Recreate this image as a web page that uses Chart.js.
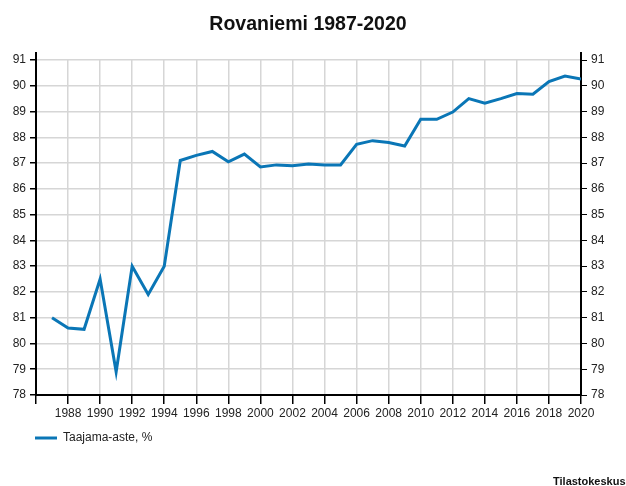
<!DOCTYPE html>
<html>
<head>
<meta charset="utf-8">
<script src="https://cdn.jsdelivr.net/npm/chart.js@4/dist/chart.umd.min.js"></script>
<style>
  html, body { margin: 0; padding: 0; background: #fff; }
  #wrap { width: 626px; height: 486px; }
</style>
</head>
<body>
<div id="wrap"><canvas id="kuvaaja" width="626" height="486"></canvas></div>
<script>
// Taajama-aste, Rovaniemi
const vuodet = [1987, 1988, 1989, 1990, 1991, 1992, 1993, 1994, 1995, 1996, 1997,
    1998, 1999, 2000, 2001, 2002, 2003, 2004, 2005, 2006, 2007, 2008, 2009, 2010,
    2011, 2012, 2013, 2014, 2015, 2016, 2017, 2018, 2019, 2020];
const taajamaAste = [81.0, 80.6, 80.55, 82.5, 78.9, 83.0, 81.9, 83.0, 87.1, 87.3, 87.45,
    87.05, 87.35, 86.85, 86.93, 86.9, 86.96, 86.93, 86.93, 87.73, 87.87, 87.8, 87.66, 88.7,
    88.7, 88.98, 89.5, 89.32, 89.5, 89.7, 89.67, 90.16, 90.38, 90.26];
const otsikko = 'Rovaniemi 1987-2020';
const sarjanNimi = 'Taajama-aste, %';
const lahde = 'Tilastokeskus';

const sininen = '#0a76b6';
const fontti = '"Liberation Sans", Arial, sans-serif';

// Otsikko, selite ja lähde piirretään itse
const tekstit = {
    id: 'tekstit',
    afterDraw(chart) {
        const ctx = chart.ctx;
        const a = chart.chartArea;
        ctx.save();
        // akselien jatkeet ylös
        ctx.strokeStyle = '#000';
        ctx.lineWidth = 2;
        ctx.beginPath();
        ctx.moveTo(a.left, a.top);
        ctx.lineTo(a.left, a.top - 8);
        ctx.moveTo(a.right, a.top);
        ctx.lineTo(a.right, a.top - 8);
        ctx.stroke();

        ctx.fillStyle = '#111';
        ctx.font = 'bold 19.5px ' + fontti;
        ctx.textAlign = 'center';
        ctx.textBaseline = 'alphabetic';
        ctx.fillText(otsikko, 308, 30);

        ctx.strokeStyle = sininen;
        ctx.lineWidth = 3;
        ctx.beginPath();
        ctx.moveTo(35, 438);
        ctx.lineTo(57, 438);
        ctx.stroke();
        ctx.fillStyle = '#222';
        ctx.font = '12px ' + fontti;
        ctx.textAlign = 'left';
        ctx.textBaseline = 'middle';
        ctx.fillText(sarjanNimi, 63, 438);

        ctx.fillStyle = '#111';
        ctx.font = 'bold 11px ' + fontti;
        ctx.textBaseline = 'alphabetic';
        ctx.fillText(lahde, 553, 485);
        ctx.restore();
    }
};

const ctx = document.getElementById('kuvaaja').getContext('2d');
new Chart(ctx, {
    type: 'line',
    data: {
        datasets: [{
            label: sarjanNimi,
            data: vuodet.map((v, i) => ({ x: v, y: taajamaAste[i] })),
            borderColor: sininen,
            borderWidth: 3,
            pointRadius: 0,
            tension: 0,
            fill: false
        }]
    },
    options: {
        responsive: false,
        animation: false,
        layout: { padding: { left: 0, right: 0, top: 60, bottom: 0 } },
        scales: {
            x: {
                type: 'linear',
                min: 1986,
                max: 2020,
                afterFit: (s) => { s.height = 91; },
                grid: { color: '#d6d6d6', lineWidth: 1.5, tickColor: '#000', tickLength: 9 },
                border: { color: '#000', width: 2 },
                ticks: {
                    stepSize: 2,
                    autoSkip: false,
                    maxRotation: 0,
                    padding: 2,
                    color: '#222',
                    font: { family: fontti, size: 12 },
                    callback: (v) => (v === 1986 ? '' : String(v))
                }
            },
            y: {
                position: 'left',
                min: 78,
                max: 91,
                afterFit: (s) => { s.width = 36; },
                grid: { color: '#d6d6d6', lineWidth: 1.5, tickColor: '#000', tickLength: 6 },
                border: { color: '#000', width: 2 },
                ticks: { stepSize: 1, padding: 4, color: '#222', font: { family: fontti, size: 12 } }
            },
            y2: {
                position: 'right',
                min: 78,
                max: 91,
                afterFit: (s) => { s.width = 45; },
                grid: { drawOnChartArea: false, tickColor: '#000', tickLength: 6 },
                border: { color: '#000', width: 2 },
                ticks: { stepSize: 1, padding: 4, color: '#222', font: { family: fontti, size: 12 } }
            }
        },
        plugins: {
            legend: { display: false },
            title: { display: false },
            tooltip: { enabled: false }
        }
    },
    plugins: [tekstit]
});
</script>
</body>
</html>
